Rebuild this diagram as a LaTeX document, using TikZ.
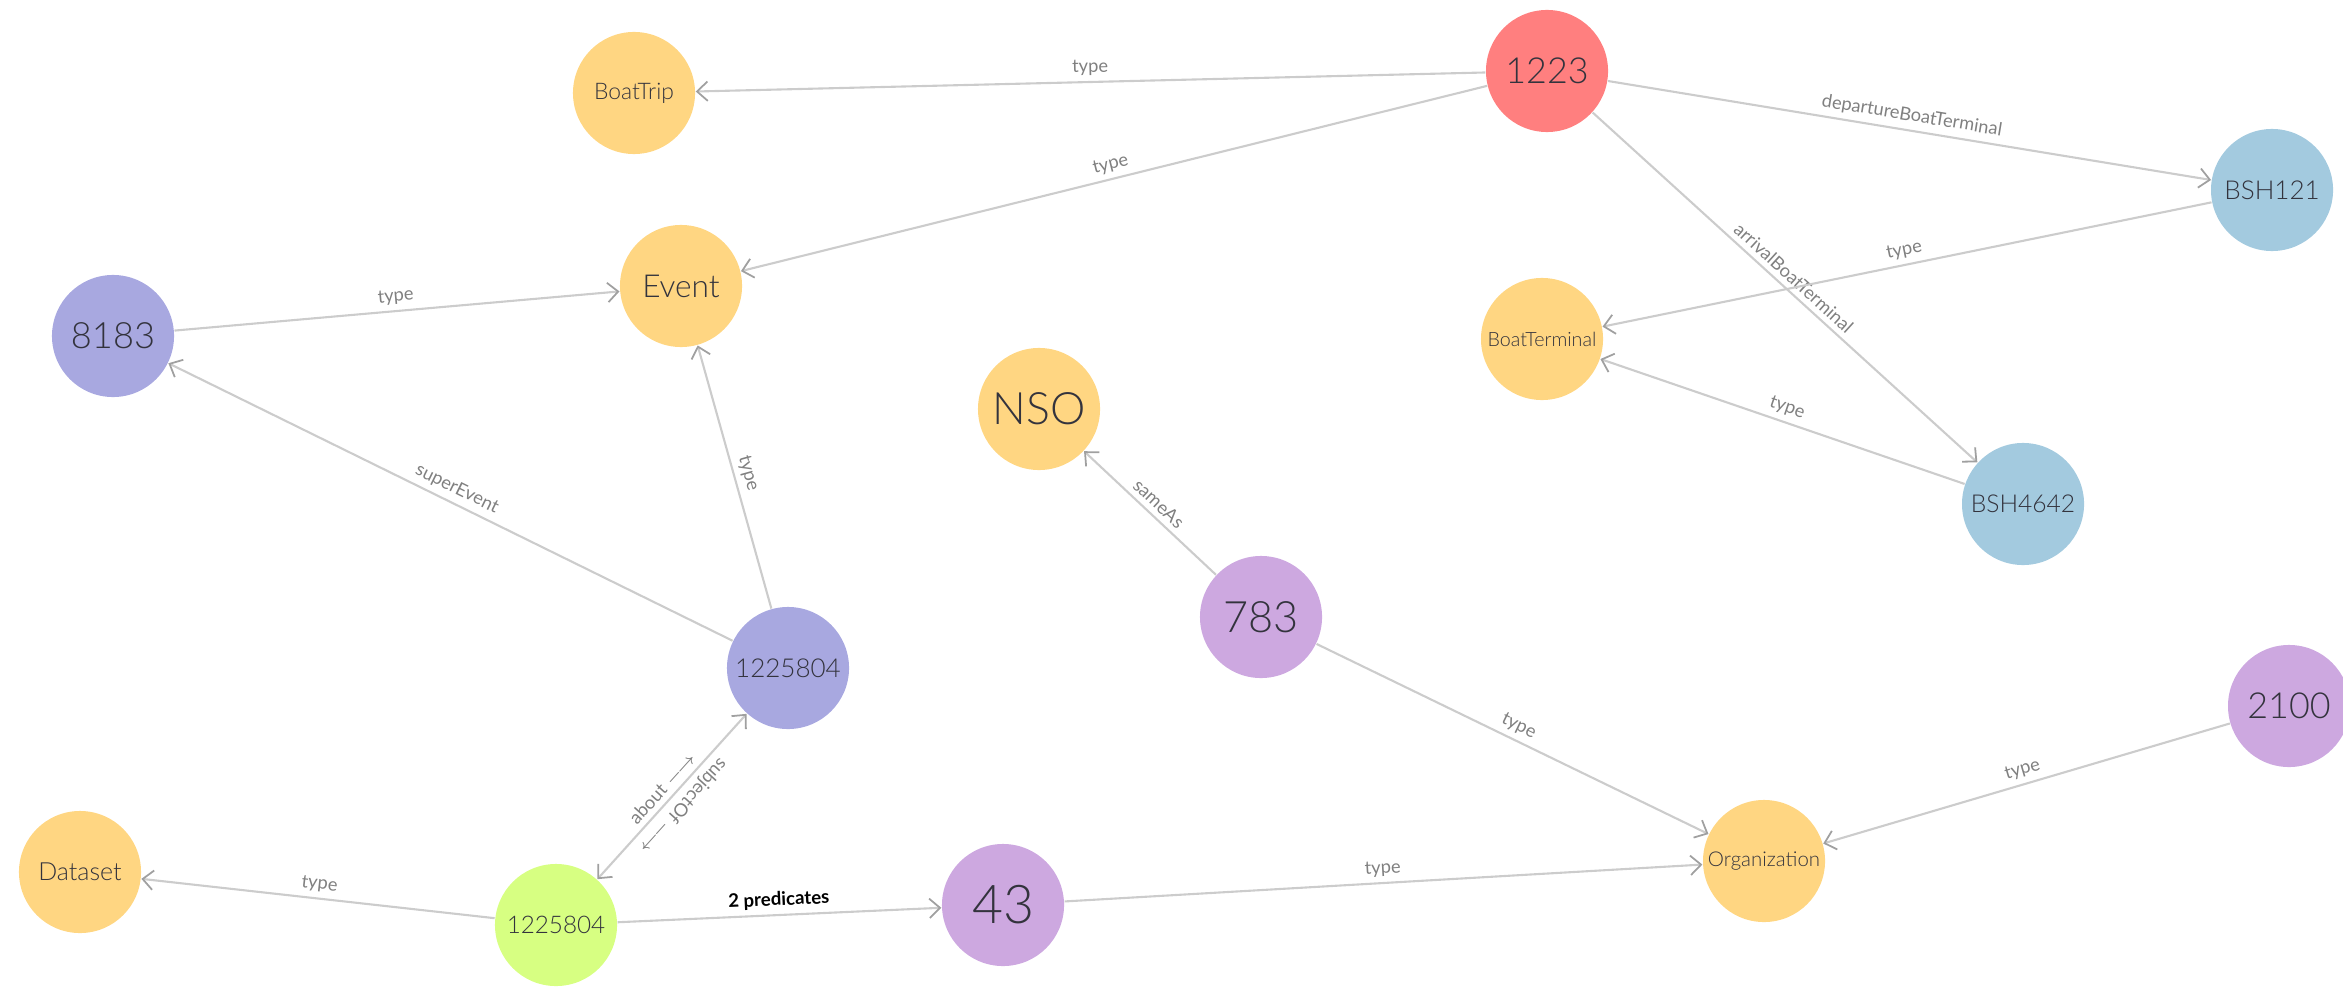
\documentclass[tikz,border=0pt]{standalone}
\usepackage{fontspec}
\setmainfont{Lato}[UprightFont={* Light}, BoldFont={* Bold}]
\newfontfamily\labfont{Lato}
\usetikzlibrary{arrows.meta}
\definecolor{classc}{HTML}{FFD682}
\definecolor{tripc}{HTML}{FF7F7F}
\definecolor{termc}{HTML}{A3CADF}
\definecolor{eventc}{HTML}{A8A8E0}
\definecolor{orgc}{HTML}{CDA8E0}
\definecolor{datac}{HTML}{D7FF82}
\definecolor{edgec}{HTML}{CCCCCC}
\definecolor{tipc}{HTML}{A0A0A0}
\definecolor{labc}{HTML}{808080}
\definecolor{textc}{HTML}{33333D}
\tikzset{
  barb/.tip={Straight Barb[length=3pt,width=5.5pt,line width=0.5pt,color=tipc]},
  res/.style={circle, fill=#1, minimum size=1.22cm, inner sep=0pt, text=textc},
  txt/.style={font=\fontsize{#1}{#1}\selectfont},
  rel/.style={draw=edgec, line width=0.6pt, -barb},
  lab/.style={sloped, above, inner sep=1.5pt, text=labc, font=\labfont\fontsize{5.2}{6}\selectfont}
}
\begin{document}
\begin{tikzpicture}[x=0.01cm,y=-0.01cm]
  \useasboundingbox (0,0) rectangle (2343,994);
  \node[res=classc, txt=6.5] (boattrip) at (634,93) {BoatTrip};
  \node[res=classc, txt=9] (event) at (681,286) {Event};
  \node[res=eventc, txt=10.3] (e8183) at (113,336) {8183};
  \node[res=tripc, txt=10.2] (trip) at (1547,71) {1223};
  \node[res=termc, txt=7.4] (bsh121) at (2272,190) {BSH121};
  \node[res=classc, txt=5.6] (terminal) at (1542,339) {BoatTerminal};
  \node[res=termc, txt=7] (bsh4642) at (2023,504) {BSH4642};
  \node[res=classc, txt=12.7] (nso) at (1039,409) {NSO};
  \node[res=orgc, txt=12.3] (o783) at (1261,617) {783};
  \node[res=eventc, txt=7.4] (subevent) at (788,668) {1225804};
  \node[res=orgc, txt=10.2] (o2100) at (2289,706) {2100};
  \node[res=classc, txt=7.1] (dataset) at (80,872) {Dataset};
  \node[res=datac, txt=6.9] (data) at (556,925) {1225804};
  \node[res=orgc, txt=15.2] (o43) at (1003,905) {43};
  \node[res=classc, txt=5.8] (org) at (1764,861) {Organization};

  \draw[rel] (trip) -- node[lab] {type} (boattrip);
  \draw[rel] (trip) -- node[lab] {type} (event);
  \draw[rel] (trip) -- node[lab] {departureBoatTerminal} (bsh121);
  \draw[rel] (trip) -- node[lab] {arrivalBoatTerminal} (bsh4642);
  \draw[rel] (bsh121) -- node[lab] {type} (terminal);
  \draw[rel] (bsh4642) -- node[lab] {type} (terminal);
  \draw[rel] (e8183) -- node[lab] {type} (event);
  \draw[rel] (subevent) -- node[lab] {superEvent} (e8183);
  \draw[rel] (subevent) -- node[lab] {type} (event);
  \draw[rel] (o783) -- node[lab] {sameAs} (nso);
  \draw[rel] (o783) -- node[lab] {type} (org);
  \draw[rel] (o2100) -- node[lab] {type} (org);
  \draw[rel] (data) -- node[lab] {type} (dataset);
  \draw[rel] (data) -- node[lab, text=black, font=\fontsize{5.3}{6}\selectfont\bfseries] {2 predicates} (o43);
  \draw[rel] (o43) -- node[lab] {type} (org);
  \draw[rel, barb-barb] (data) -- node[lab] {about $\longrightarrow$} (subevent);
  \path (subevent) -- node[lab, allow upside down] {subjectOf $\longrightarrow$} (data);
\end{tikzpicture}
\end{document}
